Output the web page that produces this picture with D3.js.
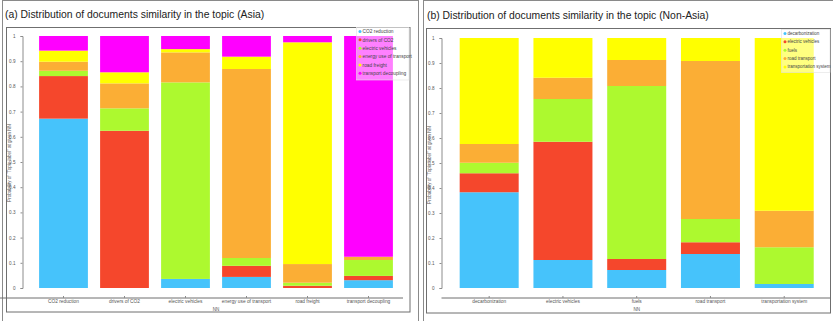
<!DOCTYPE html>
<html>
<head>
<meta charset="utf-8">
<script src="https://cdn.jsdelivr.net/npm/d3@7"></script>
<style>
  html, body { margin: 0; padding: 0; background: #fff; }
  svg { display: block; font-family: "Liberation Sans", Arial, sans-serif; }
</style>
</head>
<body>
<svg id="chart" width="833" height="321"></svg>
<script>
// Topic share of documents, Asia corpus
const asiaTopics = ["CO2 reduction", "drivers of CO2", "electric vehicles", "energy use of transport", "road freight", "transport decoupling"];
const asiaSeries = ["CO2 reduction", "drivers of CO2", "electric vehicles", "energy use of transport", "road freight", "transport decoupling"];
const asiaCO2Reduction   = [0.672, 0.000, 0.036, 0.044, 0.000, 0.031];
const asiaDriversOfCO2   = [0.169, 0.624, 0.000, 0.044, 0.009, 0.017];
const asiaElectricVeh    = [0.021, 0.089, 0.780, 0.031, 0.012, 0.063];
const asiaEnergyUse      = [0.036, 0.099, 0.119, 0.750, 0.074, 0.013];
const asiaRoadFreight    = [0.044, 0.044, 0.013, 0.049, 0.880, 0.000];
const asiaDecoupling     = [0.058, 0.144, 0.052, 0.082, 0.025, 0.876];

// Topic share of documents, Non-Asia corpus
const nonAsiaTopics = ["decarbonization", "electric vehicles", "fuels", "road transport", "transportation system"];
const nonAsiaSeries = ["decarbonization", "electric vehicles", "fuels", "road transport", "transportation system"];
const nonAsiaDecarbonization = [0.383, 0.112, 0.072, 0.136, 0.016];
const nonAsiaElectricVeh     = [0.076, 0.473, 0.044, 0.047, 0.000];
const nonAsiaFuels           = [0.042, 0.171, 0.692, 0.093, 0.147];
const nonAsiaRoadTransport   = [0.075, 0.085, 0.104, 0.632, 0.146];
const nonAsiaTransportSystem = [0.424, 0.159, 0.088, 0.092, 0.691];

const yTicks = [0, 0.1, 0.2, 0.3, 0.4, 0.5, 0.6, 0.7, 0.8, 0.9, 1];

const asiaColors = ["#46c3fb", "#f5472c", "#adf92f", "#fbae35", "#ffff00", "#ff00ff"];
const nonAsiaColors = ["#46c3fb", "#f5472c", "#adf92f", "#fbae35", "#ffff00"];

const svg = d3.select("#chart");

function panel(cfg) {
  const g = svg.append("g");

  // panel outline and inner plot frame
  g.append("rect")
    .attr("x", cfg.box[0]).attr("y", cfg.box[1])
    .attr("width", cfg.box[2]).attr("height", cfg.box[3])
    .attr("fill", "none").attr("stroke", "#8a8a8a").attr("stroke-width", 1);
  g.append("rect")
    .attr("x", cfg.frame[0]).attr("y", cfg.frame[1])
    .attr("width", cfg.frame[2]).attr("height", cfg.frame[3])
    .attr("fill", "#fff").attr("stroke", "#6f6f6f").attr("stroke-width", 1);

  g.append("text")
    .attr("x", cfg.titlePos[0]).attr("y", cfg.titlePos[1])
    .attr("font-size", 10.4).attr("fill", "#222")
    .text(cfg.title);

  const x = d3.scaleBand().domain(cfg.topics).range(cfg.xRange).paddingInner(0.2).paddingOuter(0.1);
  const y = d3.scaleLinear().domain([0, 1]).range(cfg.yRange);

  const rows = cfg.topics.map((t, i) => {
    const r = { topic: t };
    cfg.series.forEach((s, k) => { r[s] = cfg.values[k][i]; });
    return r;
  });
  const stacked = d3.stack().keys(cfg.series)(rows);
  const color = d3.scaleOrdinal().domain(cfg.series).range(cfg.colors);

  g.append("g").selectAll("g").data(stacked).join("g")
    .attr("fill", d => color(d.key))
    .selectAll("rect").data(d => d).join("rect")
      .attr("x", d => x(d.data.topic))
      .attr("width", x.bandwidth())
      .attr("y", d => y(d[1]))
      .attr("height", d => Math.max(0, y(d[0]) - y(d[1])));

  // y axis
  const ya = g.append("g")
    .attr("transform", `translate(${cfg.yAxisX},0)`)
    .call(d3.axisLeft(y).tickValues(yTicks).tickFormat(d3.format("~g")).tickSize(2).tickPadding(5));
  ya.select(".domain").attr("stroke", "#8c8c8c");
  ya.selectAll(".tick line").attr("stroke", "#8c8c8c");
  ya.selectAll(".tick text").attr("font-size", 4.6).attr("fill", "#555").attr("font-family", "Liberation Sans, Arial, sans-serif");

  g.append("text")
    .attr("transform", `translate(${cfg.yTitlePos[0]},${cfg.yTitlePos[1]}) rotate(-90)`)
    .attr("text-anchor", "middle").attr("font-size", 4.6).attr("fill", "#555")
    .text("Probability of \u201CTopic label\u201D at given NN");

  // x axis
  const xa = g.append("g")
    .attr("transform", `translate(0,${cfg.xAxisY})`)
    .call(d3.axisBottom(x).tickSize(-2).tickSizeOuter(0).tickPadding(2));
  xa.select(".domain").attr("stroke", "#6f6f6f").attr("d", `M${cfg.xLine[0]},0H${cfg.xLine[1]}`);
  xa.selectAll(".tick line").attr("stroke", "#8c8c8c");
  xa.selectAll(".tick text").attr("font-size", 4.8).attr("fill", "#555").attr("font-family", "Liberation Sans, Arial, sans-serif");

  g.append("text")
    .attr("x", (cfg.xRange[0] + cfg.xRange[1]) / 2).attr("y", cfg.xAxisY + 13)
    .attr("text-anchor", "middle").attr("font-size", 4.6).attr("fill", "#555")
    .text("NN");

  // legend
  const lg = g.append("g").attr("transform", `translate(${cfg.legend[0]},${cfg.legend[1]})`);
  lg.append("rect")
    .attr("width", cfg.legend[2]).attr("height", cfg.legend[3])
    .attr("fill", "#fff").attr("fill-opacity", 0.5)
    .attr("stroke", "#e2e2e2").attr("stroke-width", 0.6);
  const items = lg.selectAll("g.item").data(cfg.series).join("g")
    .attr("transform", (d, i) => `translate(3.5,${4 + i * 8.35})`);
  items.append("circle").attr("r", 1.5).attr("fill", d => color(d));
  items.append("text").attr("x", 2.6).attr("dy", "0.35em")
    .attr("font-size", cfg.legendFont).attr("fill", "#444").text(d => d);
}

panel({
  title: "(a) Distribution of documents similarity in the topic (Asia)",
  titlePos: [5, 17.5],
  box: [2.5, 0.5, 416, 330],
  frame: [6.5, 27.5, 403.5, 284.5],
  topics: asiaTopics,
  series: asiaSeries,
  values: [asiaCO2Reduction, asiaDriversOfCO2, asiaElectricVeh, asiaEnergyUse, asiaRoadFreight, asiaDecoupling],
  colors: asiaColors,
  xRange: [33, 399],
  yRange: [288, 36],
  yAxisX: 22.5,
  yTitlePos: [10.8, 163],
  xAxisY: 298,
  xLine: [-13, 403],
  legend: [356.5, 27.5, 52.5, 52.5],
  legendFont: 4.8
});

panel({
  title: "(b) Distribution of documents similarity in the topic (Non-Asia)",
  titlePos: [427, 19],
  box: [423.5, 0.5, 420, 330],
  frame: [426.5, 28.5, 404, 284.5],
  topics: nonAsiaTopics,
  series: nonAsiaSeries,
  values: [nonAsiaDecarbonization, nonAsiaElectricVeh, nonAsiaFuels, nonAsiaRoadTransport, nonAsiaTransportSystem],
  colors: nonAsiaColors,
  xRange: [452.3, 821.1],
  yRange: [288, 38],
  yAxisX: 441.5,
  yTitlePos: [430.8, 165],
  xAxisY: 298,
  xLine: [441.5, 830],
  legend: [781.5, 29.5, 48.5, 43],
  legendFont: 4.5
});
</script>
</body>
</html>
